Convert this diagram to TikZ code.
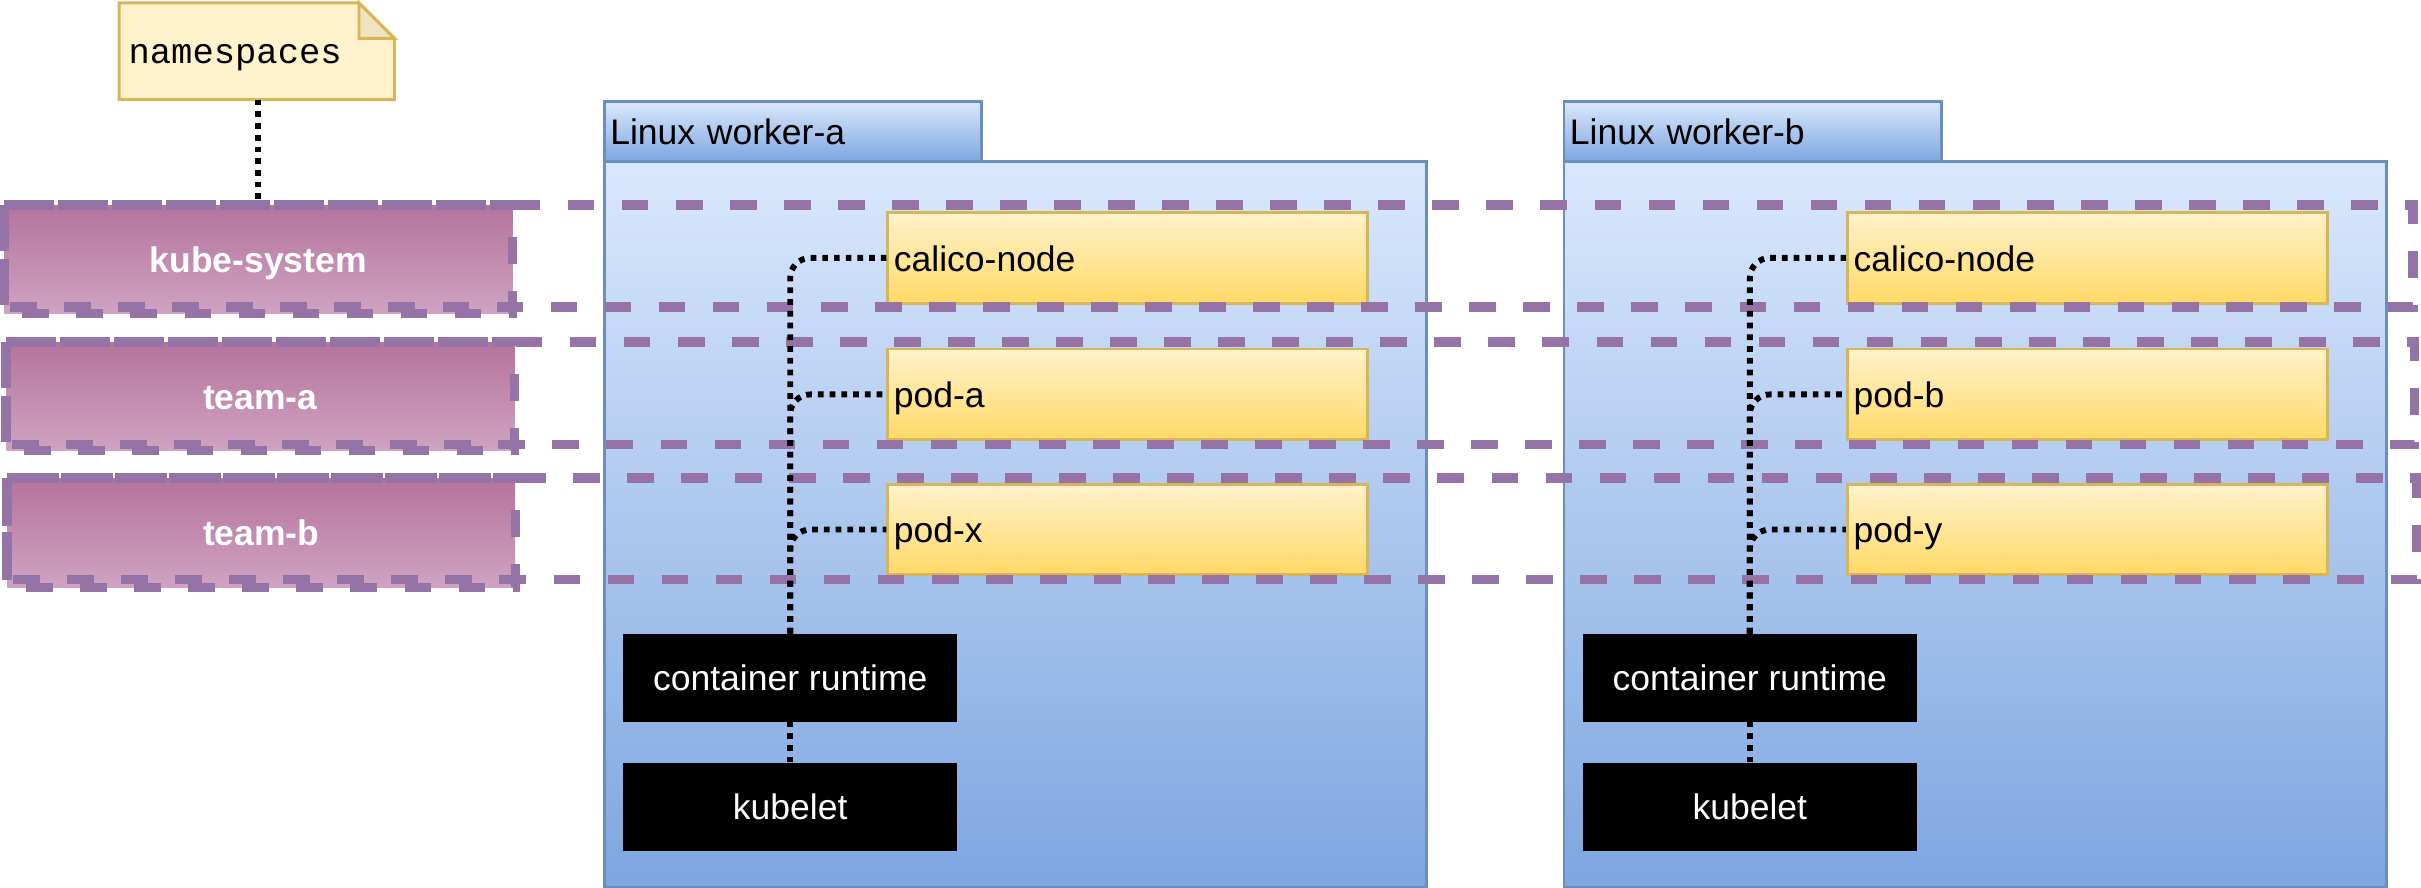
\documentclass[tikz,border=0pt]{standalone}
\usepackage{fontspec}
\setmainfont{Liberation Sans}
\newfontfamily\notefont{Liberation Mono}
\usetikzlibrary{calc,backgrounds}
\definecolor{nsstroke}{HTML}{9673A6}
\definecolor{nstop}{HTML}{B5739D}
\definecolor{nsbot}{HTML}{CFA3C1}
\definecolor{bluetop}{HTML}{DAE8FC}
\definecolor{bluebot}{HTML}{7EA6E0}
\definecolor{bluestroke}{HTML}{6C8EBF}
\definecolor{yeltop}{HTML}{FFF2CC}
\definecolor{yelbot}{HTML}{FFD966}
\definecolor{yelstroke}{HTML}{D6B656}
\definecolor{foldfill}{HTML}{EFE3C0}
\begin{document}
\begin{tikzpicture}[x=1pt,y=-1pt,
  every node/.style={font=\fontsize{23}{27}\selectfont, text height=17pt, text depth=0pt},
  nsline/.style={draw=nsstroke, line width=5.9pt, dash pattern=on 17.3pt off 17.7pt},
  nsbox/.style={top color=nstop, bottom color=nsbot, text=white,
     font=\fontsize{23}{27}\selectfont\bfseries, inner sep=0pt, anchor=north west,
     minimum width=329pt, minimum height=70pt},
  wtab/.style={draw=bluestroke, line width=1.9pt, top color=bluetop, bottom color=bluebot,
     anchor=north west, minimum width=244.5pt, minimum height=38.8pt,
     inner xsep=3.8pt, inner ysep=0pt, text width=236.9pt, align=left},
  wbody/.style={draw=bluestroke, line width=1.9pt, top color=bluetop, bottom color=bluebot,
     anchor=north west, minimum width=532.5pt, minimum height=470.2pt, inner sep=0pt},
  yelbox/.style={draw=yelstroke, line width=1.9pt, top color=yeltop, bottom color=yelbot,
     anchor=north west, minimum width=311pt, minimum height=58.8pt,
     inner xsep=4pt, inner ysep=0pt, text width=303pt, align=left},
  blkbox/.style={draw=black, line width=1pt, fill=black, text=white,
     minimum width=215.6pt, minimum height=56pt, inner sep=0pt},
  dotline/.style={draw=black, line width=3.8pt, dash pattern=on 3.7pt off 3.9pt, rounded corners=13pt},
  notebox/.style={anchor=north west, minimum width=178pt, minimum height=62.2pt, inner xsep=6pt,
     inner ysep=0pt, text width=166pt, align=left, text height=16pt, font=\fontsize{23}{27}\notefont},
  notestyle/.style={draw=yelstroke, line width=1.9pt, fill=yeltop, line join=miter},
  foldstyle/.style={draw=yelstroke, line width=1.9pt, fill=foldfill}
]
\useasboundingbox (0,0) rectangle (1568,575.1);

% ---------- worker nodes ----------
\node[wtab] (taba) at (390.5,64.8) {Linux worker-a};
\node[wbody] (bodya) at (390.5,103.6) {};
\node[wtab] (tabb) at (1012,64.8) {Linux worker-b};
\node[wbody] (bodyb) at (1012,103.6) {};

% ---------- namespace fills ----------
\node[nsbox] (ks) at (2.6,132.8) {kube-system};
\node[nsbox] (ta) at (3.9,221.5) {team-a};
\node[nsbox, minimum height=70.6pt] (tb) at (4.5,309.6) {team-b};

% ---------- pods ----------
\node[yelbox] (cala) at (574,136.7) {calico-node};
\node[yelbox] (poda) at (574,225.1) {pod-a};
\node[yelbox] (podx) at (574,312.6) {pod-x};
\node[yelbox] (calb) at (1195.5,136.7) {calico-node};
\node[yelbox] (podb) at (1195.5,225.1) {pod-b};
\node[yelbox] (pody) at (1195.5,312.6) {pod-y};

\node[blkbox] (rta) at (511.8,438.8) {container runtime};
\node[blkbox] (kla) at (511.8,522.5) {kubelet};
\node[blkbox] (rtb) at (1133.3,438.8) {container runtime};
\node[blkbox] (klb) at (1133.3,522.5) {kubelet};

% ---------- namespace dashed outlines ----------
\draw[nsline] (2.6,132.8) rectangle (1562.8,198.8);
\draw[nsline] (3.9,221.5) rectangle (1564,287.6);
\draw[nsline] (4.5,309.6) rectangle (1565.4,375.6);
\foreach \n in {ks,ta,tb}{
  \draw[nsline] (\n.north west) -- (\n.north east) -- (\n.south east) -- (\n.south west) -- cycle;
}

% ---------- connectors ----------
\foreach \r/\p in {rta/cala,rta/poda,rta/podx,rtb/calb,rtb/podb,rtb/pody}{
  \draw[dotline] (\r.north) |- (\p.west);
}
\draw[dotline] (rta.south) -- (kla.north);
\draw[dotline] (rtb.south) -- (klb.north);

% ---------- note ----------
\node[notebox] (note) at (77.1,1.9) {namespaces};
\begin{scope}[on background layer]
\draw[notestyle] (note.north west) -- ($(note.north east)+(-23,0)$) -- ($(note.north east)+(0,23)$)
   -- (note.south east) -- (note.south west) -- cycle;
\draw[foldstyle] ($(note.north east)+(-23,0)$) -- ($(note.north east)+(-23,23)$) -- ($(note.north east)+(0,23)$) -- cycle;
\end{scope}
\draw[dotline] (note.south -| ks.north) -- (ks.north);
\end{tikzpicture}
\end{document}
